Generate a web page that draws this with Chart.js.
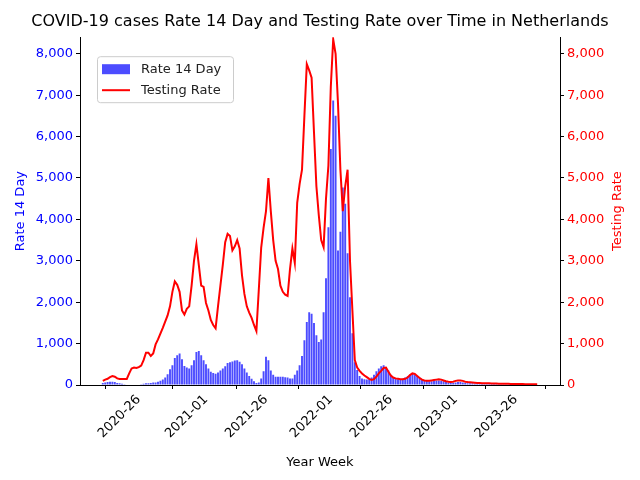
<!DOCTYPE html>
<html><head><meta charset="utf-8">
<script src="https://cdn.jsdelivr.net/npm/chart.js@4"></script>
<style>body{margin:0;background:#fff}</style>
</head><body>
<canvas id="c" width="640" height="480"></canvas>
<script>
// weeks 2020-11 .. 2023-35
const weekSpans = [[2020, 11, 53], [2021, 1, 52], [2022, 1, 52], [2023, 1, 35]];
const tickWeeks = ['2020-26', '2021-01', '2021-26', '2022-01', '2022-26', '2023-01', '2023-26'];
const yTicks = [0, 1000, 2000, 3000, 4000, 5000, 6000, 7000, 8000];

const rate14Day = [
  50,60,70,80,80,70,50,40,30,20, 10,10,10,10,10,10,20,30,40,40,
  50,60,60,80,100,130,180,260,380,480, 650,720,760,620,460,420,400,480,600,800,
  820,720,600,500,400,320,290,270,300,350, 400,450,530,550,570,590,600,560,500,400,
  300,220,150,90,50,60,160,330,680,600, 350,250,200,200,200,200,190,180,160,160,
  250,350,480,700,1080,1520,1760,1720,1500,1200, 1040,1100,1760,2580,3810,5700,6870,6500,3250,3700,
  4770,4380,3180,2120,1250,550,360,220,160,140, 130,140,180,250,330,400,450,480,420,350,
  250,180,150,140,140,150,180,210,250,280, 260,220,180,140,120,100,90,90,100,110,
  110,100,90,80,60,50,50,60,70,70, 60,50,40,40,40,35,35,30,30,30,
  30,30,25,25,25,20,20,20,20,20, 20,15,15,15,15,15,15,10,10,10,
  10,10
];
const testingRate = [
  100,130,150,190,215,200,160,145,145,145, 145,280,400,420,410,430,470,600,780,780,
  700,760,980,1100,1240,1380,1530,1680,1900,2250, 2500,2420,2250,1800,1700,1840,1900,2400,3000,3400,
  2900,2400,2370,1980,1800,1570,1450,1370,1900,2400, 2900,3450,3650,3600,3250,3350,3500,3300,2650,2200,
  1900,1750,1620,1450,1300,2300,3320,3800,4200,5000, 4200,3500,3000,2800,2400,2250,2180,2150,2800,3300,
  2950,4400,4850,5200,6500,7750,7600,7420,6100,4800, 4100,3500,3330,4500,5300,7200,8350,8000,6800,5200,
  4200,4800,5200,3000,1800,600,420,340,280,230, 190,150,120,140,200,280,340,410,420,320,
  230,180,160,150,140,140,150,180,240,280, 270,220,170,130,110,100,100,110,120,130,
  140,130,110,90,80,75,80,100,110,110, 100,80,70,65,60,55,50,50,45,45,
  40,40,38,35,35,32,30,30,28,28, 25,25,25,22,22,22,20,20,20,20,
  20,20
];

const labels = [];
for (const [y, a, b] of weekSpans) for (let w = a; w <= b; w++) labels.push(y + '-' + String(w).padStart(2, '0'));
const PAD = 9;
const pad = v => Array(PAD).fill(v);
const allLabels = [...pad(''), ...labels, ...pad('')];

const extras = {
  id: 'extras',
  afterDraw(chart) {
    const ctx = chart.ctx, a = chart.chartArea;
    const x = a.left + 17, y = a.top + 19;
    ctx.save();
    ctx.fillStyle = 'rgba(255,255,255,0.8)';
    ctx.strokeStyle = '#ccc';
    ctx.lineWidth = 1;
    ctx.beginPath(); ctx.roundRect(x + 0.5, y + 0.5, 136, 46, 3); ctx.fill(); ctx.stroke();
    ctx.fillStyle = 'rgba(0,0,255,0.7)';
    ctx.fillRect(x + 5, y + 8, 28, 10);
    ctx.strokeStyle = 'red'; ctx.lineWidth = 2;
    ctx.beginPath(); ctx.moveTo(x + 5, y + 34); ctx.lineTo(x + 33, y + 34); ctx.stroke();
    ctx.fillStyle = '#222'; ctx.font = '13px "DejaVu Sans"'; ctx.textBaseline = 'middle';
    ctx.fillText('Rate 14 Day', x + 44, y + 13);
    ctx.fillText('Testing Rate', x + 44, y + 34);
    // axis titles, both reading bottom to top
    ctx.textAlign = 'center';
    const cy = (a.top + a.bottom) / 2;
    ctx.translate(21, cy); ctx.rotate(-Math.PI / 2);
    ctx.fillStyle = 'blue'; ctx.fillText('Rate 14 Day', 0, 0);
    ctx.setTransform(1, 0, 0, 1, 0, 0);
    ctx.translate(618, cy); ctx.rotate(-Math.PI / 2);
    ctx.fillStyle = 'red'; ctx.fillText('Testing Rate', 0, 0);
    ctx.restore();
  }
};

const font = { family: 'DejaVu Sans', size: 13 };
const yAxis = (pos, color) => ({
  position: pos, min: 0, max: 8400,
  grid: { drawOnChartArea: false, color: '#000', tickLength: 4 },
  border: { color: '#000' },
  ticks: { color, font, padding: 3 },
  afterBuildTicks(s) { s.ticks = yTicks.map(v => ({ value: v })); },
  afterFit(s) { s.width = 80; }
});

new Chart(document.getElementById('c'), {
  data: {
    labels: allLabels,
    datasets: [
      { type: 'line', label: 'Testing Rate', data: [...pad(null), ...testingRate, ...pad(null)], yAxisID: 'y2',
        borderColor: 'red', borderWidth: 2, pointRadius: 0, tension: 0, order: 0 },
      { type: 'bar', label: 'Rate 14 Day', data: [...pad(null), ...rate14Day, ...pad(null)], yAxisID: 'y',
        backgroundColor: 'rgba(0,0,255,0.7)', barPercentage: 0.8, categoryPercentage: 1, order: 1 }
    ]
  },
  options: {
    responsive: false, animation: false, devicePixelRatio: 1,
    plugins: {
      legend: { display: false },
      tooltip: { enabled: false },
      title: { display: true, text: 'COVID-19 cases Rate 14 Day and Testing Rate over Time in Netherlands',
        color: '#000', font: { family: 'DejaVu Sans', size: 16, weight: 'normal' }, padding: { top: 12, bottom: 6 } }
    },
    scales: {
      x: {
        grid: { drawOnChartArea: false, color: '#000', tickLength: 4 },
        border: { color: '#000' },
        ticks: { autoSkip: false, maxRotation: 45, minRotation: 45, color: '#000', font,
          callback(v) { const l = this.getLabelForValue(v); return tickWeeks.includes(l) ? l : null; } },
        title: { display: true, text: 'Year Week', color: '#000', font, padding: { top: 0, bottom: 10 } },
        afterFit(s) { s.height = 95; }
      },
      y: yAxis('left', 'blue'),
      y2: yAxis('right', 'red')
    }
  },
  plugins: [extras]
});
</script>
</body></html>
